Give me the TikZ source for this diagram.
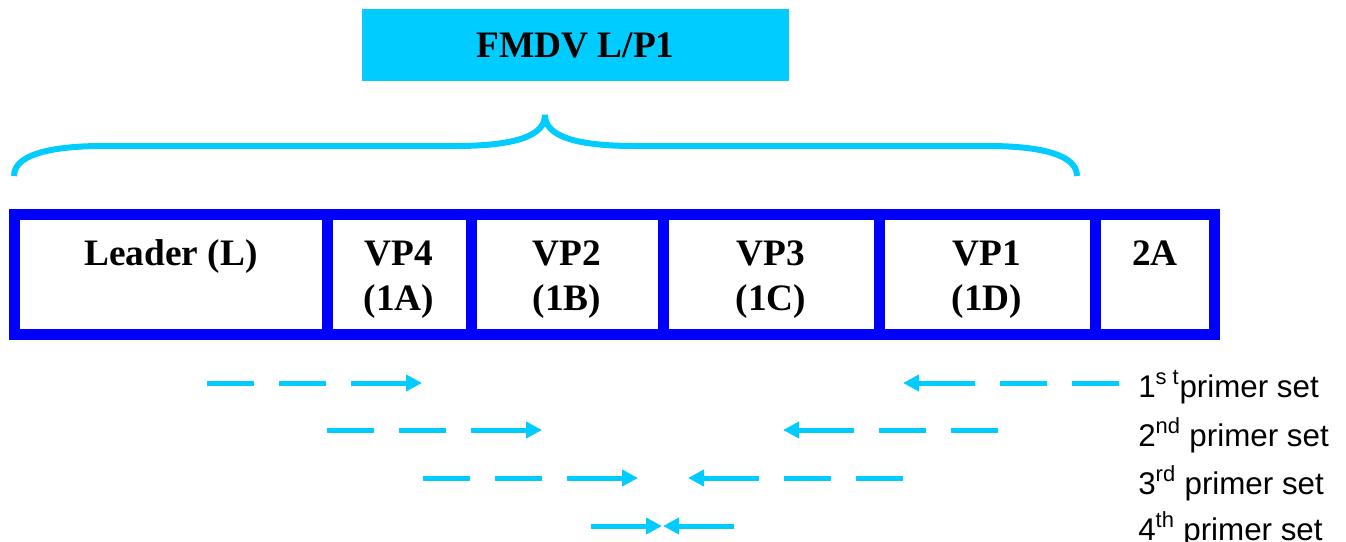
\documentclass[tikz,border=0pt]{standalone}
\usepackage{fontspec}
\setmainfont{Liberation Serif}
\newfontfamily\arialfont{Liberation Sans}
\usetikzlibrary{arrows.meta}
\definecolor{fmcyan}{RGB}{0,204,255}
\definecolor{fmblue}{RGB}{0,0,255}
\begin{document}
\begin{tikzpicture}[x=0.75pt,y=-0.75pt,
  celltext/.style={font=\bfseries\fontsize{28}{33.75}\selectfont, align=center, anchor=base, inner sep=0pt},
  boxline/.style={draw=fmblue, line width=8.25pt},
  bracestyle/.style={draw=fmcyan, line width=4.5pt},
  primer/.style={draw=fmcyan, line width=3.75pt, dash pattern=on 35.25pt off 18.75pt on 35.25pt off 18.75pt on 300pt, -{Triangle[length=12pt,width=12pt]}},
  solidprimer/.style={draw=fmcyan, line width=3.75pt, -{Triangle[length=12pt,width=12pt]}},
  label/.style={font=\arialfont\fontsize{23.5}{28}\selectfont, anchor=base west, inner sep=0pt}
]
\useasboundingbox (0,0) rectangle (1346,542);
% title
\node[fill=fmcyan, minimum width=320.25pt, minimum height=54pt, inner sep=0pt,
      font=\bfseries\fontsize{28}{33}\selectfont] (title) at (575.5,45) {FMDV L/P1};
% brace
\coordinate (bl) at (14,176);
\coordinate (bt) at (545,115);
\coordinate (br) at (1077,176);
\draw[bracestyle] (bl) .. controls (14,152) and (60,146) .. (103,146) -- (455,146)
   .. controls (515,146) and (545,136) .. (bt)
   .. controls (545,136) and (575,146) .. (635,146) -- (988,146)
   .. controls (1031,146) and (1077,152) .. (br);
% genome boxes
\draw[boxline] (14.5,214) rectangle (1214.5,334);
\foreach \x in {327,471,663,879,1095} \draw[boxline] (\x,214) -- (\x,334);
\node[celltext] (L) at (171,265) {Leader (L)};
\node[celltext] (vp4) at (399,310) {VP4\\(1A)};
\node[celltext] (vp2) at (567,310) {VP2\\(1B)};
\node[celltext] (vp3) at (771,310) {VP3\\(1C)};
\node[celltext] (vp1) at (987,310) {VP1\\(1D)};
\node[celltext] (twoA) at (1155,265) {2A};
% primers
\coordinate (f1s) at (207,383); \coordinate (f1e) at (422,383);
\coordinate (r1s) at (1119,383); \coordinate (r1e) at (903,383);
\coordinate (f2s) at (327,430); \coordinate (f2e) at (542,430);
\coordinate (r2s) at (998,430); \coordinate (r2e) at (783,430);
\coordinate (f3s) at (423,478); \coordinate (f3e) at (638,478);
\coordinate (r3s) at (903,478); \coordinate (r3e) at (688,478);
\coordinate (f4s) at (591,526); \coordinate (f4e) at (662,526);
\coordinate (r4s) at (734,526); \coordinate (r4e) at (663,526);
\draw[primer] (f1s) -- (f1e);
\draw[primer] (r1s) -- (r1e);
\draw[primer] (f2s) -- (f2e);
\draw[primer] (r2s) -- (r2e);
\draw[primer] (f3s) -- (f3e);
\draw[primer] (r3s) -- (r3e);
\draw[solidprimer] (f4s) -- (f4e);
\draw[solidprimer] (r4s) -- (r4e);
\node[label] (p1) at (1138,397) {1\textsuperscript{s t}primer set};
\node[label] (p2) at (1138,446) {2\textsuperscript{nd} primer set};
\node[label] (p3) at (1138,494) {3\textsuperscript{rd} primer set};
\node[label] (p4) at (1138,540) {4\textsuperscript{th} primer set};
\end{tikzpicture}
\end{document}
